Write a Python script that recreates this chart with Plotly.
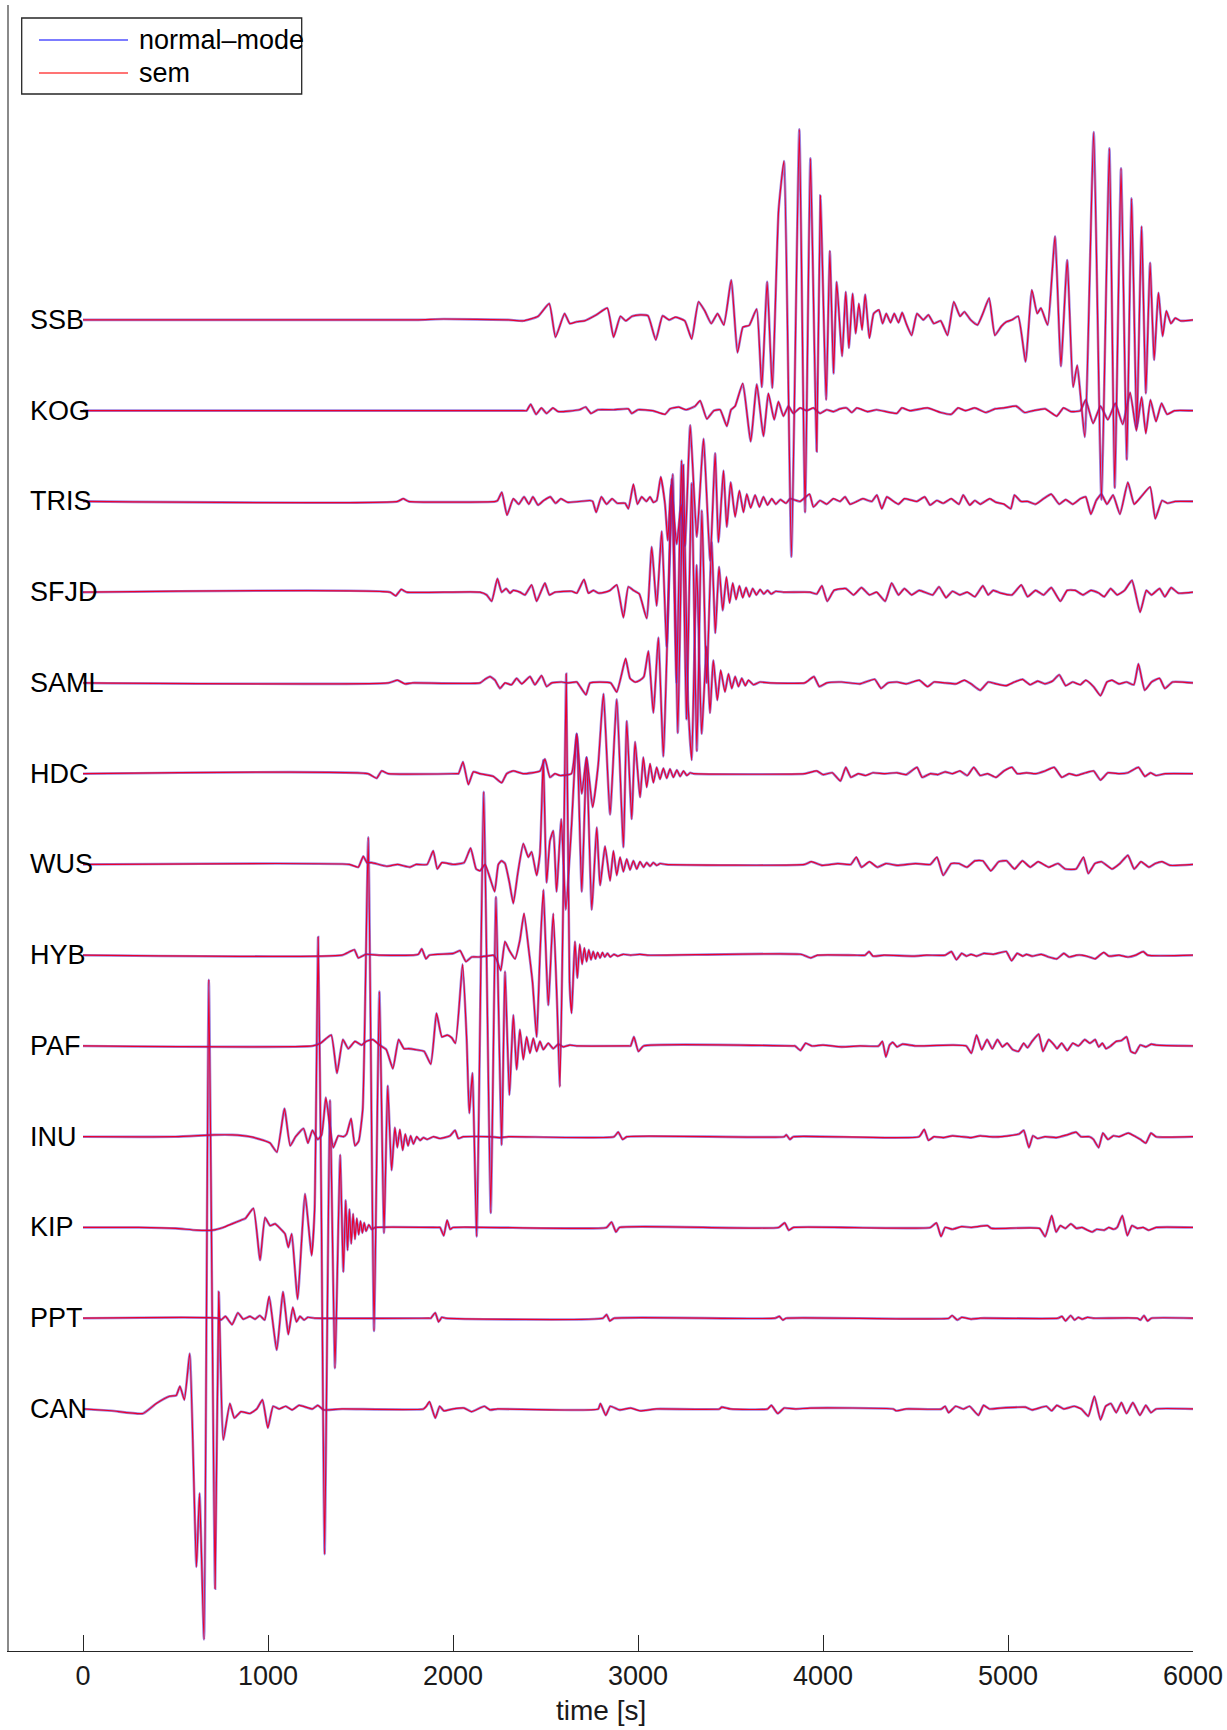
import plotly.graph_objects as go

# ---------------- data: (time [s], normalised amplitude) ----------------
STATIONS = ["CAN", "PPT", "KIP", "INU", "PAF", "HYB", "WUS", "HDC", "SAML", "SFJD", "TRIS", "KOG", "SSB"]

SSB = [(0,0),(1800,0),(1950,0.01),(2300,0),(2380,-0.01),(2460,0.04),(2520,0.18),(2554,-0.19),(2603,0.07),(2631,-0.04),
       (2669,-0.02),(2711,-0.01),(2774,0.055),(2834,0.13),(2868,-0.19),(2905,0.04),(2934,-0.01),(2968,0.04),(3011,0.055),
       (3054,0.045),(3096,-0.22),(3133,0.045),(3168,0),(3202,0.03),(3253,-0.01),(3290,-0.21),(3327,0.2),(3361,0.1),
       (3396,-0.04),(3430,0.07),(3464,-0.055),(3504,0.44),(3538,-0.36),(3567,-0.08),(3601,-0.06),(3641,0.12),(3669,-0.74),
       (3698,0.42),(3726,-0.75),(3760,1.21),(3789,1.75),(3829,-2.61),(3872,2.1),(3903,-2.12),(3932,1.78),(3966,-1.45),
       (3986,1.37),(4017,-0.88),(4037,0.76),(4057,-0.59),(4074,0.42),(4103,-0.40),(4123,0.31),(4140,-0.31),(4160,0.29),
       (4177,-0.15),(4194,0.18),(4211,-0.11),(4228,0.28),(4251,-0.2),(4274,0.07),(4302,0.11),(4322,-0.04),(4342,0.07),
       (4365,-0.03),(4385,0.07),(4408,-0.03),(4428,0.08),(4450,-0.04),(4479,-0.17),(4508,0.07),(4542,0),(4570,0.055),
       (4599,-0.04),(4636,-0.01),(4673,-0.17),(4707,0.2),(4741,0.04),(4764,0.09),(4798,0),(4835,-0.055),(4864,0.07),
       (4898,0.24),(4929,-0.17),(4964,-0.07),(4992,-0.02),(5021,0),(5055,0.04),(5095,-0.46),(5129,0.33),(5158,0.07),
       (5178,0.13),(5214,-0.055),(5254,0.92),(5286,-0.51),(5320,0.66),(5352,-0.74),(5374,-0.5),(5415,-1.29),(5463,2.07),
       (5505,-1.98),(5548,1.89),(5577,-1.85),(5611,1.67),(5642,-1.54),(5668,1.34),(5696,-1.18),(5722,1.03),(5745,-0.81),
       (5768,0.63),(5790,-0.44),(5813,0.3),(5836,-0.18),(5856,0.1),(5881,-0.04),(5904,0.02),(5933,-0.01),(6000,0)]

KOG = [(0,0),(2380,0),(2398,0),(2420,0.07),(2449,-0.04),(2478,0.03),(2506,-0.03),(2540,0.03),(2569,-0.01),(2683,0.01),(2717,0.04),
       (2746,-0.03),(2783,0.01),(2868,0.01),(2948,0.02),(2966,-0.03),(3000,0.01),(3080,0),(3146,-0.04),(3173,0.02),
       (3219,0.04),(3260,0.01),(3309,0.05),(3336,0.11),(3372,-0.09),(3410,0),(3444,0.01),(3480,-0.17),(3503,0.01),
       (3525,0.05),(3566,0.3),(3609,-0.34),(3642,0.29),(3678,-0.28),(3705,0.19),(3736,-0.1),(3759,0.1),(3786,-0.06),
       (3813,0.05),(3840,-0.03),(3876,0.03),(3912,0),(3948,0.03),(3984,-0.03),(4020,0.01),(4056,-0.01),(4092,0.02),
       (4128,0.03),(4155,-0.02),(4183,0.03),(4240,-0.01),(4290,0.01),(4399,-0.03),(4426,0.03),(4470,0),(4565,0.03),
       (4636,-0.02),(4693,-0.04),(4730,0.03),(4770,0),(4821,0.03),(4880,-0.02),(4930,0.02),(4978,0.03),(5044,0.05),
       (5090,-0.02),(5135,0),(5200,0.02),(5263,-0.06),(5300,0.03),(5340,-0.01),(5391,0),(5420,0.12),(5460,-0.14),
       (5500,0.05),(5540,-0.1),(5580,0.08),(5620,-0.15),(5660,0.2),(5694,-0.22),(5722,0.15),(5745,-0.25),(5770,0.12),
       (5800,-0.12),(5830,0.08),(5860,-0.04),(5900,0),(6000,0)]

TRIS = [(0,0),(1700,0),(1731,0.03),(1760,0),(2230,0),(2241,0.01),(2264,0.1),(2292,-0.15),(2326,0.03),(2355,-0.03),(2384,0.05),
        (2410,-0.03),(2432,0.05),(2460,-0.04),(2490,0.01),(2526,0.05),(2555,-0.02),(2583,0.03),(2620,-0.01),(2740,0.01),
        (2755,0),(2774,-0.12),(2802,0.05),(2830,-0.03),(2860,0.03),(2888,-0.02),(2930,-0.02),(2948,-0.08),(2975,0.19),(2997,-0.03),
        (3020,0.05),(3045,0),(3065,0.05),(3083,-0.01),(3101,0.01),(3123,0.27),(3146,-0.03),(3161,-0.43),(3179,0.18),
        (3209,-0.47),(3233,-0.04),(3254,-0.49),(3282,0.84),(3318,-0.39),(3354,0.69),(3390,-0.65),(3417,0.53),(3435,-0.45),
        (3462,0.34),(3480,-0.28),(3501,0.21),(3525,-0.17),(3548,0.12),(3570,-0.12),(3588,0.08),(3609,-0.07),(3633,0.07),
        (3656,-0.06),(3678,0.05),(3700,-0.04),(3723,0.03),(3745,-0.03),(3770,0.02),(3800,-0.02),(3822,0.03),(3876,0),
        (3927,0.08),(3948,-0.06),(3984,0.01),(4020,-0.03),(4056,0.03),(4092,0),(4119,0.05),(4146,-0.03),(4183,0),
        (4215,0.03),(4264,0),(4291,0.07),(4318,-0.08),(4345,0.05),(4375,0.01),(4408,-0.03),(4440,0.03),(4507,0),
        (4550,0.05),(4579,-0.04),(4615,0.01),(4650,-0.02),(4693,0.03),(4735,-0.03),(4758,0.07),(4793,-0.04),(4821,0.01),
        (4850,-0.03),(4901,0.03),(4935,-0.01),(4978,-0.03),(5015,-0.08),(5035,0.07),(5070,0),(5106,0),(5149,-0.03),
        (5192,0.03),(5234,0.08),(5277,-0.03),(5312,0.02),(5349,-0.03),(5391,0.03),(5420,0.05),(5448,-0.14),(5477,0.01),
        (5505,0.08),(5535,-0.03),(5568,0.07),(5605,-0.14),(5648,0.21),(5682,-0.03),(5719,0.05),(5768,0.16),(5796,-0.19),
        (5833,0.01),(5862,-0.02),(5904,0),(6000,0)]

SFJD = [(0,0),(1660,0),(1690,-0.04),(1720,0.03),(1750,0),(2146,0),(2182,-0.03),(2209,-0.1),(2240,0.15),(2263,0),
        (2287,0.04),(2308,-0.01),(2326,0.02),(2362,0),(2389,-0.03),(2425,0.08),(2452,-0.1),(2474,0),(2497,0.1),
        (2521,-0.03),(2551,0),(2642,0.01),(2669,-0.01),(2708,0.14),(2732,-0.01),(2759,0.02),(2786,-0.01),(2822,0),
        (2849,0.02),(2885,0.08),(2921,-0.28),(2948,0.06),(2975,0.02),(3007,-0.02),(3047,-0.29),(3074,0.5),(3101,-0.15),
        (3128,0.67),(3155,-0.6),(3182,1.25),(3208,-1.0),(3235,1.45),(3262,-1.4),(3290,1.2),(3318,-1.75),(3345,0.9),
        (3371,-1.0),(3398,0.55),(3418,-0.45),(3438,0.28),(3458,-0.2),(3478,0.17),(3495,-0.12),(3512,0.1),(3530,-0.08),
        (3548,0.07),(3566,-0.06),(3584,0.05),(3602,-0.05),(3620,0.04),(3640,-0.03),(3660,0.03),(3680,-0.02),(3700,0.02),
        (3720,-0.02),(3745,0.01),(3786,0),(3930,0),(3966,-0.02),(3994,0.07),(4023,-0.1),(4060,0.02),(4123,0.04),
        (4165,-0.03),(4208,0.05),(4251,-0.03),(4290,0),(4336,-0.1),(4371,0.1),(4408,-0.03),(4440,0.04),(4479,-0.03),
        (4520,0.02),(4593,-0.03),(4627,0.06),(4665,-0.06),(4700,0.01),(4740,-0.03),(4780,0),(4821,-0.05),(4864,0.07),
        (4893,-0.03),(4920,0.02),(4960,-0.01),(5021,-0.03),(5072,0.08),(5106,-0.05),(5149,0.02),(5192,-0.03),(5234,0.05),
        (5283,-0.1),(5320,0.02),(5363,0.02),(5405,-0.03),(5448,0.02),(5491,-0.01),(5520,-0.05),(5555,0.04),(5590,-0.03),
        (5630,0.02),(5670,0.13),(5714,-0.22),(5748,0.02),(5776,-0.03),(5819,0.04),(5848,-0.05),(5882,0.05),(5920,-0.01),
        (6000,0)]

SAML = [(0,0),(1650,0),(1700,0.03),(1740,-0.01),(1780,0),(2146,0),(2173,0.04),(2200,0.07),(2227,0.03),(2254,-0.06),
        (2281,0),(2316,-0.02),(2344,0.05),(2372,-0.01),(2416,0.07),(2443,-0.02),(2479,0.08),(2506,-0.04),(2533,0),
        (2587,0.01),(2620,0),(2669,0.01),(2687,-0.04),(2719,-0.13),(2741,0),(2852,0),(2885,-0.1),(2912,0.1),(2933,0.27),
        (2957,0.05),(2984,0.01),(3011,0.03),(3032,0.07),(3056,0.35),(3083,-0.33),(3110,0.5),(3137,-0.81),(3160,0.6),
        (3188,2.3),(3215,-0.55),(3245,2.4),(3270,-0.2),(3290,-0.85),(3317,1.3),(3344,-0.56),(3371,0.4),(3389,-0.33),
        (3407,0.25),(3429,-0.19),(3447,0.14),(3470,-0.1),(3489,0.1),(3507,-0.06),(3525,0.07),(3543,-0.04),(3561,0.05),
        (3580,-0.03),(3597,0.03),(3624,-0.02),(3660,0.01),(3714,0),(3900,0),(3923,0.03),(3951,0.07),(3980,-0.04),
        (4020,0),(4100,0.01),(4200,-0.01),(4279,0.04),(4314,-0.06),(4350,0),(4400,0.01),(4450,-0.01),(4520,0.03),
        (4565,-0.04),(4600,0.01),(4660,0),(4720,-0.01),(4764,0.03),(4800,-0.01),(4850,-0.08),(4893,0.01),(4935,-0.01),
        (4990,-0.03),(5035,0.01),(5078,0.04),(5120,-0.02),(5160,0.02),(5200,-0.01),(5240,0.02),(5277,0.09),(5312,-0.03),
        (5349,0.01),(5391,-0.02),(5420,0.03),(5462,-0.04),(5500,-0.14),(5535,0.01),(5562,0.03),(5600,-0.01),(5640,0.01),
        (5680,-0.02),(5705,0.21),(5739,-0.08),(5776,0.01),(5819,0.05),(5848,-0.06),(5890,0.01),(6000,0)]

HDC = [(0,0),(1540,0),(1587,-0.05),(1614,0.03),(1650,0),(2020,0),(2030,0),(2054,0.13),(2083,-0.12),(2110,0.02),(2146,0),
       (2218,-0.03),(2263,-0.1),(2290,0),(2326,0.03),(2380,0),(2470,0.03),(2497,0.16),(2524,-0.04),(2551,0),(2578,-0.02),
       (2640,0),(2669,0.44),(2696,-0.22),(2722,0.18),(2755,-0.37),(2785,0.1),(2813,0.88),(2849,-0.45),(2885,0.82),
       (2921,-0.81),(2939,0.58),(2966,-0.5),(2984,0.35),(3011,-0.26),(3029,0.18),(3047,-0.15),(3065,0.11),(3083,-0.1),
       (3101,0.07),(3119,-0.06),(3137,0.06),(3155,-0.05),(3173,0.05),(3191,-0.04),(3210,0.04),(3228,-0.03),(3246,0.03),
       (3264,-0.02),(3282,0.01),(3300,0),(3900,0),(3966,0.03),(4000,-0.01),(4050,0.01),(4094,-0.08),(4123,0.07),
       (4151,-0.04),(4190,0),(4230,-0.02),(4270,0.01),(4330,0),(4400,0.01),(4450,-0.01),(4508,0.07),(4536,-0.04),
       (4580,0),(4620,-0.01),(4660,0.02),(4700,0),(4740,0.03),(4780,-0.02),(4815,0.07),(4850,-0.02),(4890,0),
       (4935,-0.04),(4978,0.03),(5021,0.07),(5050,0),(5100,0.01),(5150,0),(5200,0.03),(5249,0.07),(5291,-0.04),
       (5330,0),(5370,-0.02),(5420,0.01),(5463,0.03),(5500,-0.07),(5540,0.01),(5600,0),(5648,0.01),(5705,0.07),
       (5740,-0.03),(5770,0.01),(5800,-0.02),(5850,0),(6000,0)]

WUS = [(0,0),(1440,0),(1488,-0.03),(1515,0.09),(1535,0.02),(1560,0.02),(1641,-0.02),(1700,0),(1767,-0.03),(1800,0),
       (1860,0),(1893,0.15),(1915,-0.05),(1940,0.02),(2000,0),(2060,0.02),(2095,0.18),(2125,-0.05),(2146,-0.07),
       (2173,0),(2200,-0.15),(2225,-0.3),(2245,0),(2262,0.04),(2281,0.01),(2305,-0.2),(2326,-0.43),(2350,-0.1),
       (2380,0.23),(2407,0.08),(2425,0.14),(2452,-0.12),(2470,0.12),(2488,1.15),(2506,-0.2),(2524,0.26),(2542,0.37),
       (2560,-0.3),(2585,0.5),(2610,-0.5),(2640,0.4),(2669,1.44),(2696,-0.3),(2722,1.18),(2750,-0.5),(2777,0.41),
       (2795,-0.23),(2822,0.2),(2849,-0.18),(2867,0.15),(2885,-0.12),(2903,0.08),(2921,-0.08),(2939,0.06),(2957,-0.06),
       (2975,0.04),(2993,-0.05),(3011,0.03),(3030,-0.03),(3047,0.02),(3065,-0.02),(3083,0.02),(3101,-0.01),(3120,0.01),
       (3150,0),(3900,0),(3937,0.03),(3994,-0.01),(4080,0.01),(4150,0),(4180,0.08),(4208,-0.03),(4251,0.03),
       (4294,-0.03),(4340,0.01),(4400,-0.01),(4500,0.01),(4580,0),(4616,0.08),(4650,-0.12),(4693,0.01),(4735,0.01),
       (4778,-0.03),(4821,0.04),(4864,0.04),(4907,-0.07),(4950,0.03),(4992,0.04),(5035,-0.05),(5078,0.04),(5120,-0.03),
       (5163,0.03),(5220,-0.03),(5270,0.01),(5310,-0.05),(5368,-0.05),(5408,0.08),(5434,-0.1),(5470,0.01),(5505,0.03),
       (5562,-0.05),(5605,0.01),(5648,0.1),(5682,-0.05),(5719,0.03),(5762,-0.03),(5796,0.01),(5833,0.03),(5875,-0.01),
       (6000,0)]

HYB = [(0,0),(1400,0),(1443,0.04),(1467,0.06),(1488,-0.03),(1530,0.01),(1600,0),(1786,0),(1813,0.01),(1831,0.07),
       (1854,-0.04),(1872,0),(2002,0.02),(2038,0.05),(2070,-0.07),(2101,-0.02),(2137,-0.02),(2182,-0.01),(2218,0),
       (2236,-0.05),(2258,-0.17),(2281,0.15),(2305,0.05),(2335,-0.04),(2362,0.17),(2384,0.46),(2410,0.05),(2430,-0.3),
       (2452,-0.9),(2470,0),(2488,0.72),(2515,-0.55),(2542,0.46),(2562,-0.5),(2578,-1.45),(2595,0.5),(2612,3.1),
       (2630,-0.3),(2641,-0.64),(2659,0.15),(2672,-0.25),(2685,0.12),(2698,-0.1),(2710,0.08),(2722,-0.07),(2734,0.06),
       (2746,-0.05),(2758,0.04),(2770,-0.04),(2782,0.03),(2795,-0.03),(2808,0.03),(2820,-0.02),(2835,0.02),(2850,-0.02),
       (2870,0.01),(2890,-0.01),(2920,0.01),(2960,0),(3010,0.01),(3050,0),(3880,0.01),(3934,-0.03),(3970,0),(4170,0),
       (4227,0),(4249,0.04),(4270,-0.01),(4330,0),(4490,-0.01),(4560,0),(4660,0),(4694,0.04),(4721,-0.05),(4750,0.02),
       (4775,-0.01),(4800,0.01),(4830,-0.01),(4870,0.02),(4920,0.01),(4990,0.04),(5019,-0.06),(5050,0.02),(5080,-0.01),
       (5100,0.01),(5130,-0.01),(5180,0.01),(5220,-0.02),(5264,-0.04),(5302,0.02),(5330,-0.02),(5370,0),(5400,0),
       (5440,-0.02),(5471,-0.04),(5496,0),(5518,0.03),(5545,-0.01),(5600,0),(5650,-0.02),(5690,0),(5731,0.04),
       (5755,0),(6000,0)]

PAF = [(0,0),(1240,0),(1284,0.03),(1313,0.08),(1342,0.12),(1373,-0.3),(1405,0.07),(1434,-0.03),(1470,0.05),(1506,0.01),
       (1530,0.05),(1566,0.07),(1603,0.01),(1639,-0.04),(1675,-0.25),(1706,0.07),(1735,-0.03),(1759,-0.03),(1795,-0.04),
       (1844,-0.06),(1880,-0.2),(1911,0.36),(1940,0.1),(1969,0.12),(1993,0.09),(2013,0.03),(2052,0.9),(2074,0.07),
       (2088,-0.74),(2105,-0.3),(2128,-2.1),(2166,2.8),(2204,-1.84),(2232,1.64),(2263,-1.09),(2281,0.82),(2305,-0.54),
       (2326,0.34),(2344,-0.26),(2362,0.18),(2380,-0.15),(2398,0.1),(2416,-0.08),(2434,0.085),(2452,-0.06),(2470,0.05),
       (2488,-0.04),(2515,0.03),(2542,-0.03),(2569,0.02),(2596,-0.01),(2632,0.01),(2668,0),(2950,0),(2960,0),(2978,0.1),
       (3002,-0.06),(3030,0),(3840,0),(3849,0),(3878,-0.05),(3906,0.03),(3940,0),(4000,0.01),(4100,-0.01),(4200,0),(4300,0),
       (4321,0.05),(4340,-0.12),(4360,0.01),(4377,0.04),(4400,-0.01),(4430,0.02),(4500,0),(4700,0.01),(4774,0),
       (4802,-0.08),(4830,0.12),(4858,-0.04),(4887,0.07),(4915,-0.03),(4943,0.07),(4970,-0.01),(4995,0.03),(5025,-0.04),
       (5056,-0.06),(5085,0.03),(5105,-0.02),(5130,0.05),(5166,0.13),(5189,-0.06),(5220,0.07),(5250,0.01),(5265,-0.03),
       (5290,0.03),(5320,-0.05),(5350,0.03),(5380,0),(5415,0.07),(5443,0.03),(5471,0.07),(5490,-0.01),(5510,0.03),
       (5530,-0.03),(5555,0),(5585,0.05),(5613,0.06),(5641,0.1),(5664,-0.06),(5688,-0.08),(5715,0.01),(5745,-0.01),
       (5775,0.02),(5800,0.01),(6000,0)]

INU = [(0,0),(500,0),(710,0.02),(806,0.02),(903,0),(975,-0.04),(1011,-0.07),(1048,-0.17),(1089,0.31),(1120,-0.1),
       (1149,0),(1192,0.09),(1216,-0.07),(1240,0.07),(1269,-0.03),(1290,0.02),(1313,0.43),(1335,0.1),(1353,-0.12),
       (1380,0.01),(1407,0),(1425,0.03),(1449,0.2),(1470,-0.1),(1490,-0.05),(1512,0.3),(1542,3.3),(1573,-2.14),
       (1602,1.6),(1627,-1.06),(1647,0.56),(1668,-0.37),(1686,0.1),(1699,-0.12),(1713,0.08),(1728,-0.15),(1742,0.03),
       (1757,-0.1),(1771,0.01),(1786,-0.08),(1804,0),(1822,-0.04),(1840,-0.01),(1860,-0.03),(1894,0),(1930,-0.02),
       (1984,0.01),(2011,0.07),(2029,-0.02),(2056,0),(2200,0),(2254,-0.01),(2300,0),(2870,0),(2893,0.05),(2917,-0.03),
       (2940,0),(3790,0),(3802,0.02),(3821,-0.03),(3840,0),(4519,0),(4547,0.08),(4570,-0.04),(4600,0),(4650,-0.01),
       (4700,0.01),(4750,0),(4800,-0.01),(4850,0.01),(4900,0),(4960,0),(5060,0.03),(5085,0.07),(5113,-0.12),(5135,0.01),
       (5160,-0.02),(5200,0),(5260,-0.01),(5320,0.02),(5368,0.05),(5395,0),(5440,0),(5462,-0.03),(5490,-0.12),
       (5513,0.04),(5540,-0.03),(5570,0.01),(5600,0),(5650,0.04),(5690,0),(5716,-0.03),(5745,-0.07),(5773,0.04),
       (5800,0),(6000,0)]

KIP = [(0,0),(300,0),(500,-0.01),(613,-0.03),(700,-0.03),(758,0),(806,0.04),(854,0.08),(878,0.1),(921,0.21),
       (957,-0.36),(984,0.11),(1011,0.02),(1038,0.04),(1065,-0.01),(1092,-0.07),(1110,-0.22),(1128,-0.07),(1160,-0.79),
       (1200,0.37),(1236,-0.31),(1252,0.2),(1271,3.2),(1288,0.3),(1306,-3.6),(1335,1.4),(1362,-1.55),(1390,0.8),
       (1407,-0.49),(1420,0.3),(1430,-0.25),(1440,0.2),(1450,-0.18),(1460,0.15),(1470,-0.13),(1480,0.1),(1490,-0.08),
       (1500,0.07),(1510,-0.06),(1520,0.05),(1530,-0.04),(1545,0.03),(1560,-0.02),(1580,0),(1920,0),(1930,0),(1950,-0.09),
       (1968,0.08),(1985,-0.02),(2000,0),(2830,0),(2857,0.06),(2881,-0.05),(2900,0),(3760,0),(3793,0.05),(3815,-0.03),
       (3840,0),(4580,0),(4613,0.05),(4638,-0.1),(4660,0),(4700,-0.02),(4750,0.01),(4800,0),(4890,0.02),(4910,-0.01),
       (5170,-0.01),(5201,-0.1),(5236,0.13),(5260,-0.05),(5283,0.02),(5310,-0.01),(5340,0.04),(5370,-0.01),(5400,0),
       (5430,-0.03),(5455,-0.05),(5480,-0.02),(5520,-0.03),(5545,0),(5570,-0.02),(5590,0),(5618,0.13),(5645,-0.09),
       (5670,0.02),(5700,-0.01),(5730,0),(5760,-0.03),(5800,0),(6000,0)]

PPT = [(0,0),(733,0),(746,-0.02),(770,0.02),(806,-0.07),(837,0.06),(866,-0.01),(903,0.02),(930,-0.01),(956,0.03),
       (982,-0.02),(1006,0.24),(1047,-0.35),(1081,0.29),(1110,-0.18),(1134,0.12),(1154,-0.04),(1173,0.02),(1195,-0.02),
       (1215,0.01),(1252,0),(1870,0),(1880,0),(1904,0.06),(1922,-0.04),(1940,0.01),(1960,0),(2810,0),(2830,0.04),(2848,-0.03),
       (2870,0),(3740,0),(3764,0.02),(3783,-0.02),(3800,0),(4680,0),(4698,0.03),(4726,-0.02),(4750,0.01),(4800,-0.01),
       (4850,0),(5270,0),(5292,0.02),(5311,-0.03),(5339,0.03),(5360,-0.02),(5380,0.01),(5400,-0.01),(5430,0.01),
       (5460,0),(5700,0),(5716,-0.02),(5735,0.03),(5754,-0.03),(5775,0),(6000,0)]

CAN = [(0,0),(155,-0.02),(324,-0.05),(396,0.06),(468,0.14),(504,0.15),(524,0.25),(548,0.1),(577,0.61),(613,-1.74),
       (630,-0.93),(654,-2.54),(680,4.73),(714,-1.98),(734,1.29),(758,-0.34),(794,0.06),(818,-0.1),(854,-0.03),
       (902,-0.05),(939,0),(970,0.1),(999,-0.21),(1028,0.03),(1060,0),(1096,0.03),(1130,-0.01),(1168,0.04),(1240,0),
       (1269,0.04),(1300,-0.01),(1400,0),(1840,0),(1856,0.03),(1873,0.08),(1904,-0.1),(1928,0.03),(1950,-0.02),(2000,0),
       (2060,0.01),(2100,-0.03),(2169,0.03),(2200,-0.01),(2240,0),(2785,0),(2797,0.06),(2826,-0.07),(2850,0.03),
       (2900,-0.01),(2960,0.01),(3010,-0.02),(3100,0),(3440,0),(3453,0.02),(3500,0),(3700,0),(3721,0.04),(3755,-0.05),(3790,0.01),
       (3850,0),(3930,0.01),(4380,0),(4396,-0.02),(4450,0),(4640,0),(4660,0.03),(4679,-0.04),(4717,0.03),(4760,0),(4792,0.03),
       (4840,-0.07),(4868,0.04),(4900,0),(4960,0.01),(5094,0.02),(5130,-0.01),(5207,0.03),(5236,-0.02),(5264,0.04),
       (5302,0),(5358,0.03),(5396,0),(5434,-0.08),(5467,0.14),(5500,-0.12),(5528,0.03),(5556,0.06),(5585,-0.04),
       (5613,0.07),(5641,-0.05),(5675,0.07),(5713,-0.07),(5745,0.04),(5773,-0.04),(5800,0),(6000,0)]

TRACES = {"CAN": CAN, "PPT": PPT, "KIP": KIP, "INU": INU, "PAF": PAF, "HYB": HYB, "WUS": WUS,
          "HDC": HDC, "SAML": SAML, "SFJD": SFJD, "TRIS": TRIS, "KOG": KOG, "SSB": SSB}

X_TICKS = [0, 1000, 2000, 3000, 4000, 5000, 6000]
LEGEND_LABELS = ["normal\u2013mode", "sem"]

# ---------------- styling / layout ----------------
W, H = 1227, 1730
PL, PR, PT, PB = 9, 1193, 5, 1651          # plot-area pixel box
XR = [-400, 6000]
YR = [-2.667, 15.47]
FONT = "Liberation Sans, Arial, Helvetica, sans-serif"
BLUE = "rgba(90,50,200,0.6)"
RED = "rgb(235,0,45)"


def px_x(px):
    return (px - PL) / (PR - PL)


def px_y(py):
    return (PB - py) / (PB - PT)


fig = go.Figure()
for k, name in enumerate(STATIONS):
    pts = TRACES[name]
    t = [p[0] for p in pts]
    y = [k + p[1] for p in pts]
    fig.add_trace(go.Scatter(x=t, y=y, mode="lines",
                             line=dict(color=BLUE, width=2.6, shape="spline", smoothing=0.45),
                             showlegend=False, hoverinfo="skip"))
    fig.add_trace(go.Scatter(x=t, y=y, mode="lines",
                             line=dict(color=RED, width=1.2, shape="spline", smoothing=0.45),
                             showlegend=False, hoverinfo="skip"))
    fig.add_annotation(x=-300, y=k, text=name, showarrow=False, xanchor="left", yanchor="middle",
                       font=dict(family=FONT, size=27, color="black"))

# custom legend (box, sample lines, labels)
fig.add_shape(type="rect", xref="paper", yref="paper", x0=px_x(21.7), x1=px_x(301.7), y0=px_y(94), y1=px_y(18),
              line=dict(color="#262626", width=1.3), fillcolor="white", layer="above")
for i, (lab, col) in enumerate(zip(LEGEND_LABELS, ["rgb(80,80,255)", "rgb(255,70,70)"])):
    yy = px_y(40 + 33 * i)
    fig.add_shape(type="line", xref="paper", yref="paper", x0=px_x(39), x1=px_x(128), y0=yy, y1=yy,
                  line=dict(color=col, width=1.6), layer="above")
    fig.add_annotation(xref="paper", yref="paper", x=px_x(137), y=yy, text=lab, showarrow=False,
                       xanchor="left", yanchor="middle", font=dict(family=FONT, size=27, color="black"))

fig.add_annotation(xref="paper", yref="paper", x=0.5, y=px_y(1711), text="time [s]", showarrow=False,
                   xanchor="center", yanchor="middle", font=dict(family=FONT, size=28, color="#1a1a1a"))

fig.update_layout(
    width=W, height=H,
    margin=dict(l=PL, r=W - PR, t=PT, b=H - PB, pad=0),
    paper_bgcolor="white", plot_bgcolor="white",
    xaxis=dict(range=XR, tickvals=X_TICKS, ticks="inside", ticklen=16, tickwidth=1, tickcolor="#262626",
               showline=True, linecolor="#262626", linewidth=1.2, showgrid=False, zeroline=False,
               tickfont=dict(family=FONT, size=27, color="#1a1a1a")),
    yaxis=dict(range=YR, showline=True, linecolor="#8a8a8a", linewidth=1.5, showgrid=False, zeroline=False,
               showticklabels=False, ticks=""),
)

fig.write_html("out.html", config={"displayModeBar": False},
               post_script="document.body.style.margin='0';document.body.style.padding='0';")
